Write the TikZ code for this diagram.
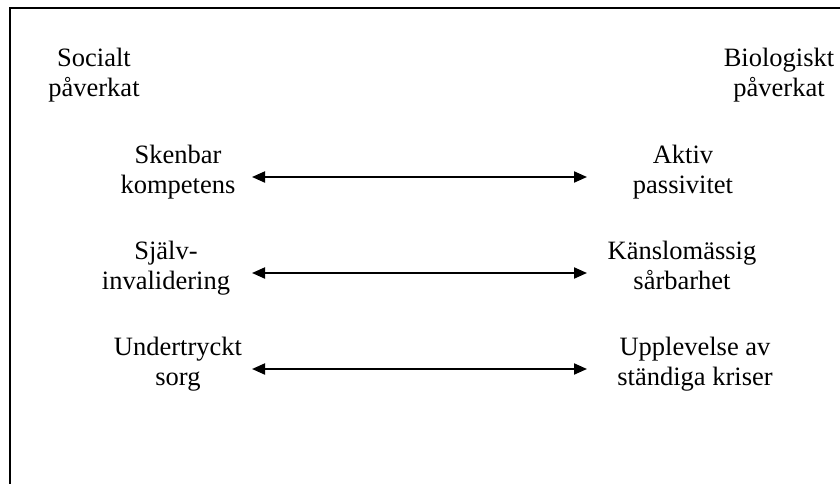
\documentclass[tikz,border=0pt]{standalone}
\usepackage{fontspec}
\setmainfont{Liberation Serif}
\usetikzlibrary{arrows.meta}
\newcommand{\tp}{\rule{0pt}{24pt}}
\newcommand{\bt}{\rule[-22pt]{0pt}{0pt}}

\begin{document}
\begin{tikzpicture}[x=1pt,y=-1pt,
    lbl/.style={align=center,inner sep=0pt,font=\fontsize{26.5}{30}\selectfont},
    link/.style={{Triangle[length=13pt,width=11pt]}-{Triangle[length=13pt,width=11pt]},line width=2pt}]
    \useasboundingbox (0,0) rectangle (840,484);
    % frame
    \draw [line width=2.2pt] (840,8) -| (10,484);

    % headings
    \node [lbl] (soc) at (94,81) {\tp Socialt\\påverkat\bt};
    \node [lbl] (bio) at (779,81) {\tp Biologiskt\\påverkat\bt};

    % left column
    \node [lbl] (sken) at (178,177) {\tp Skenbar\\kompetens\bt};
    \node [lbl] (sjalv) at (166,273) {\tp Själv-\\invalidering\bt};
    \node [lbl] (under) at (178,369) {\tp Undertryckt\\sorg\bt};

    % right column
    \node [lbl] (aktiv) at (683,177) {\tp Aktiv\\passivitet\bt};
    \node [lbl] (kansl) at (682,273) {\tp Känslomässig\\sårbarhet\bt};
    \node [lbl] (upp) at (695,369) {\tp Upplevelse av\\ständiga kriser\bt};

    % arrows
    \coordinate (L) at (252,0);
    \coordinate (R) at (587,0);
    \foreach \a/\b in {sken/aktiv,sjalv/kansl,under/upp}
      \draw [link] (\a -| L) -- (\b -| R);
\end{tikzpicture}
\end{document}
